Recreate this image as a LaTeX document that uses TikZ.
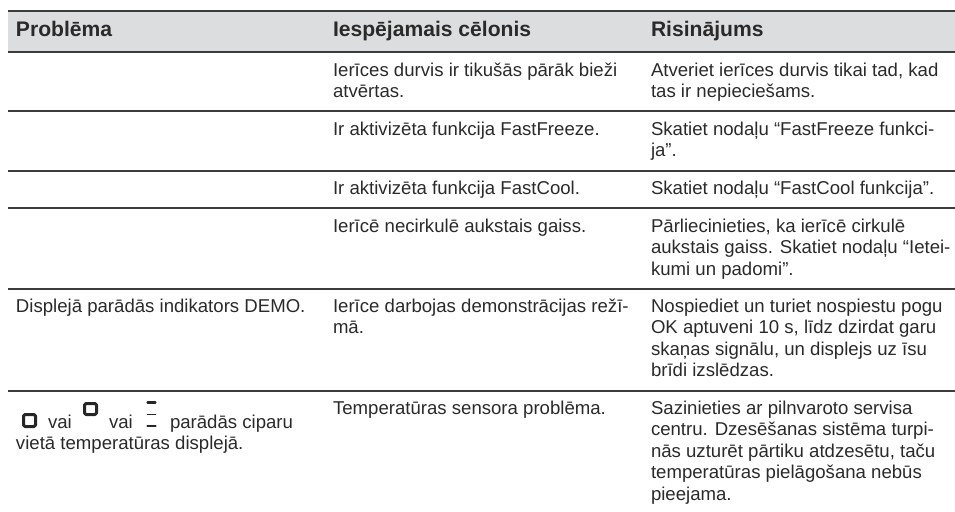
\documentclass[tikz,border=0pt]{standalone}
\usepackage{fontspec}
\setmainfont{Liberation Sans}
\definecolor{rulec}{HTML}{3C3C3C}
\definecolor{headc}{HTML}{DCDDDF}
\definecolor{textc}{HTML}{2A2A2A}
\tikzset{
 cell/.style={anchor=base west,inner sep=0pt,outer sep=0pt,font=\fontsize{18.6}{22}\selectfont,text=textc},
 headcell/.style={anchor=base west,inner sep=0pt,outer sep=0pt,font=\fontsize{21.1}{24}\selectfont\bfseries,text=textc},
 rowrule/.style={draw=rulec,line width=1.5pt},
 seg/.style={draw=black!85,line width=3pt,line cap=round,line join=round}
}
\begin{document}
\begin{tikzpicture}[x=1pt,y=-1pt]
\useasboundingbox (0,0) rectangle (955,511);
\fill[headc] (8,11) rectangle (955,52);
\foreach \yy in {11,52,111,171,208,289,391}{\draw[rowrule] (8,\yy) -- (955,\yy);}
\node[headcell] (h1) at (16,36.7) {Problēma};
\node[headcell] (h2) at (333,36.7) {Iespējamais cēlonis};
\node[headcell] (h3) at (651,36.7) {Risinājums};
\node[cell] (a1) at (333,76) {Ierīces durvis ir tikušās pārāk bieži};
\node[cell] (a2) at (333,97) {atvērtas.};
\node[cell] (a3) at (651,76) {Atveriet ierīces durvis tikai tad, kad};
\node[cell] (a4) at (651,97) {tas ir nepieciešams.};
\node[cell] (b1) at (333,135) {Ir aktivizēta funkcija FastFreeze.};
\node[cell] (b2) at (651,135) {Skatiet nodaļu “FastFreeze funkci-};
\node[cell] (b3) at (651,156.5) {ja”.};
\node[cell] (c1) at (333,194) {Ir aktivizēta funkcija FastCool.};
\node[cell] (c2) at (651,194) {Skatiet nodaļu “FastCool funkcija”.};
\node[cell] (d1) at (333,232) {Ierīcē necirkulē aukstais gaiss.};
\node[cell] (d2) at (651,232) {Pārliecinieties, ka ierīcē cirkulē};
\node[cell] (d3) at (651,253.5) {aukstais gaiss. Skatiet nodaļu “Ietei-};
\node[cell] (d4) at (651,275) {kumi un padomi”.};
\node[cell] (e1) at (16,312) {Displejā parādās indikators DEMO.};
\node[cell] (e2) at (333,312) {Ierīce darbojas demonstrācijas režī-};
\node[cell] (e3) at (333,333.5) {mā.};
\node[cell] (e4) at (651,312) {Nospiediet un turiet nospiestu pogu};
\node[cell] (e5) at (651,333.5) {OK aptuveni 10 s, līdz dzirdat garu};
\node[cell] (e6) at (651,355) {skaņas signālu, un displejs uz īsu};
\node[cell] (e7) at (651,376.5) {brīdi izslēdzas.};
\node[cell] (f1) at (48,428) {vai};
\node[cell] (f2) at (109,428) {vai};
\node[cell] (f3) at (170,428) {parādās ciparu};
\node[cell] (f4) at (16,449.5) {vietā temperatūras displejā.};
\node[cell] (f5) at (333,414) {Temperatūras sensora problēma.};
\node[cell] (f6) at (651,414) {Sazinieties ar pilnvaroto servisa};
\node[cell] (f7) at (651,435.5) {centru. Dzesēšanas sistēma turpi-};
\node[cell] (f8) at (651,457) {nās uzturēt pārtiku atdzesētu, taču};
\node[cell] (f9) at (651,478.5) {temperatūras pielāgošana nebūs};
\node[cell] (f10) at (651,500) {pieejama.};
\draw[seg,rounded corners=1.5pt] (23.5,414.5) rectangle (35.5,426.5);
\draw[seg,rounded corners=1.5pt] (84.5,403.5) rectangle (96.5,414.5);
\draw[seg,line width=2.2pt] (147.5,402.5) -- (155.5,402.5);
\draw[seg,line width=1.6pt] (147.5,414.5) -- (155.5,414.5);
\draw[seg,line width=2.2pt] (147.5,426) -- (155.5,426);
\end{tikzpicture}
\end{document}
